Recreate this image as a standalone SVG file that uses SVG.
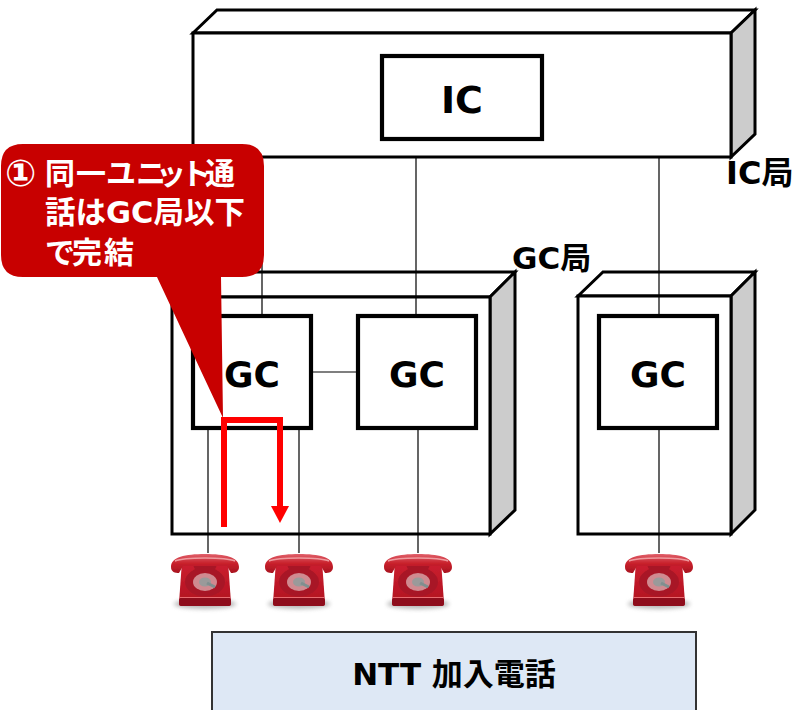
<svg xmlns="http://www.w3.org/2000/svg" width="796" height="710" viewBox="0 0 796 710">
<style>
.o{fill:#fff;stroke:#000;stroke-width:3;stroke-linejoin:miter}
.s{fill:#ccc;stroke:#000;stroke-width:3}
.b{fill:#fff;stroke:#000;stroke-width:4.2}
.l{fill:none;stroke:#000;stroke-width:1.2}
text{font-family:"DejaVu Sans","Noto Sans CJK JP",sans-serif;font-weight:700;fill:#000}
.g{font-size:36px;text-anchor:middle}
.c{font-size:30px;fill:#fff;font-family:"DejaVu Sans","Noto Sans CJK JP",sans-serif;font-weight:700}
.t{font-size:32px}
</style>
<defs>
<linearGradient id="pb" x1="0" y1="0" x2="0" y2="1"><stop offset="0" stop-color="#cc2030"/><stop offset="1" stop-color="#b01220"/></linearGradient>
<linearGradient id="ph" x1="0" y1="0" x2="0" y2="1"><stop offset="0" stop-color="#e0606a"/><stop offset="0.5" stop-color="#c8202c"/><stop offset="1" stop-color="#a81420"/></linearGradient>
<filter id="bl" x="-30%" y="-100%" width="160%" height="300%"><feGaussianBlur stdDeviation="2"/></filter>
<filter id="sf" x="-10%" y="-10%" width="120%" height="120%"><feGaussianBlur stdDeviation="0.6"/></filter>
<g id="phone">
<ellipse cx="0" cy="51" rx="31" ry="5" fill="#888" opacity="0.6" filter="url(#bl)"/>
<g filter="url(#sf)">
<path d="M-23,8 H23 L26,50 Q26,53 22,53 H-22 Q-26,53 -26,50 Z" fill="url(#pb)"/>
<rect x="-26" y="45" width="52" height="8" rx="2" fill="#8e0f1a"/>
<path d="M-25,44.500 H25" stroke="#e86a70" stroke-width="1"/>
<path d="M-12,12 H12 L9,19 H-9 Z" fill="#a81826"/>
<ellipse cx="0" cy="29" rx="20" ry="14.500" fill="#a81826"/>
<ellipse cx="0" cy="29" rx="12" ry="9" fill="#d08a90"/>
<ellipse cx="0" cy="29" rx="6" ry="4.500" fill="#9a9a9a"/>
<path d="M2,30 L10,34" stroke="#7f8f8f" stroke-width="3"/>
<path d="M-34,14 C-34,4 -20,1 0,1 C20,1 34,4 34,14 C34,19 30,20 26,20 L22,13 H-22 L-26,20 C-30,20 -34,19 -34,14 Z" fill="url(#ph)"/>
<path d="M-30,8 C-20,4 20,4 30,8" stroke="#ee9a9e" stroke-width="1.500" fill="none"/>
</g>
</g>
</defs>
<g id="ic-station">
<path class="o" d="M193,33 L217,10 H755 L731,33 Z"/>
<path class="s" d="M731,33 L755,10 V134 L731,157 Z"/>
<rect class="o" x="193" y="33" width="538" height="124"/>
<text class="t" x="726" y="184">IC局</text>
</g>
<g id="gc-station-1">
<path class="o" d="M172,297 L196,272 H515 L490,297 Z"/>
<path class="s" d="M490,297 L515,272 V510 L490,534 Z"/>
<rect class="o" x="172" y="297" width="318" height="237"/>
<text class="t" x="512" y="269" style="font-size:31px">GC局</text>
</g>
<g id="gc-station-2">
<path class="o" d="M578,296 L603,272 H755 L731,296 Z"/>
<path class="s" d="M731,296 L755,272 V510 L731,534 Z"/>
<rect class="o" x="578" y="296" width="153" height="238"/>
</g>
<g id="connectors">
<path class="l" d="M262,157 V316 M416,157 V316 M659,157 V316 M311,372 H358 M208,428 V553 M299,428 V553 M418,428 V553 M659,428 V553"/>
</g>
<g id="ic"><rect class="b" x="382" y="56" width="160" height="83"/><text class="g" x="462" y="113" style="font-size:38px">IC</text></g>
<g id="gc1"><rect class="b" x="193" y="316" width="118" height="112"/><text class="g" x="252" y="387">GC</text></g>
<g id="gc2"><rect class="b" x="358" y="316" width="118" height="112"/><text class="g" x="417" y="387">GC</text></g>
<g id="gc3"><rect class="b" x="599" y="316" width="118" height="112"/><text class="g" x="658" y="387">GC</text></g>
<g id="phone1"><use href="#phone" x="205" y="553"/></g>
<g id="phone2"><use href="#phone" x="299" y="553"/></g>
<g id="phone3"><use href="#phone" x="418" y="553"/></g>
<g id="phone4"><use href="#phone" x="659" y="553"/></g>
<g id="ntt"><path d="M212,710 V632 H696 V710" fill="#dee8f5" stroke="#333" stroke-width="2"/><text x="454" y="685" font-size="31" text-anchor="middle">NTT 加入電話</text></g>
<g id="callout">
<path d="M23,144 H242 Q264,144 264,166 V255 Q264,277 242,277 H221 L223,418 L157,277 H23 Q1,277 1,255 V166 Q1,144 23,144 Z" fill="#c80000"/>
<text class="c" x="5" y="186" style="font-size:37px">①</text>
<text class="c" x="45 76 106 136 156 181 205" y="184">同一ユニット通</text>
<text class="c" x="45" y="223" style="font-size:30.500px">話はGC局以下</text>
<text class="c" x="45 72 104" y="263">で完結</text>
</g>
<g id="route">
<path d="M224,527 V420 H280 V507" fill="none" stroke="#f00" stroke-width="6"/>
<path d="M271,506 H289 L280,523 Z" fill="#f00"/>
</g>
</svg>
